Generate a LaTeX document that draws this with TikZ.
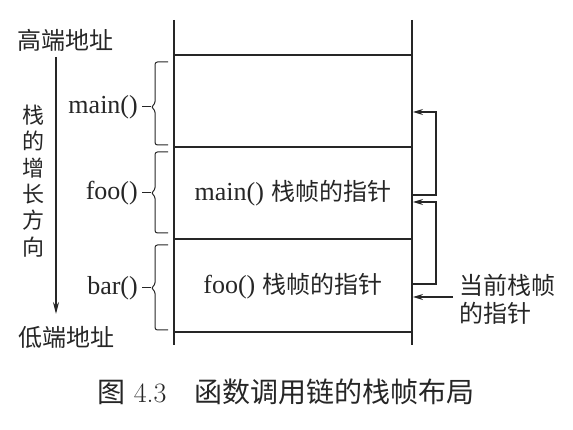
\documentclass[tikz,border=0pt]{standalone}
\usepackage{fontspec}
\newfontfamily\cjk{Noto Sans CJK SC}
\newfontfamily\lat{Liberation Serif}
\usetikzlibrary{arrows.meta}
\definecolor{ink}{HTML}{262626}
\begin{document}
\begin{tikzpicture}[x=1pt,y=-1pt,
  txt/.style={font=\fontsize{24}{26}\selectfont, text=ink, inner sep=0pt},
  frameline/.style={draw=ink, line width=2pt},
  ptr/.style={draw=ink, line width=1.2pt, -{Stealth[length=10pt,width=6pt]}},
  bracepath/.style={draw=ink, line width=1pt, rounded corners=2.5pt},
  dashline/.style={draw=ink, line width=1pt, shorten <=4pt}]
\useasboundingbox (0,0) rectangle (573,430);
% stack
\coordinate (tl) at (174,20); \coordinate (bl) at (174,345);
\coordinate (tr) at (412,20); \coordinate (br) at (412,345);
\draw[frameline] (tl) -- (bl);
\draw[frameline] (tr) -- (br);
\foreach \yy in {55,147,239,332} \draw[frameline] (174,\yy) -- (412,\yy);
% texts in frames
\node[txt] (pmain) at (293,193) {{\lat\fontsize{26}{26}\selectfont main()} {\cjk 栈帧的指针}};
\node[txt] (pfoo) at (293,286) {{\lat\fontsize{26}{26}\selectfont foo()} {\cjk 栈帧的指针}};
% left labels
\node[txt] (hi) at (65,40) {\cjk 高端地址};
\node[txt] (lo) at (66,337) {\cjk 低端地址};
\coordinate (gs) at (56,57); \coordinate (ge) at (56,314);
\draw[ink, line width=1.2pt, -{Stealth[length=12pt,width=6pt]}] (gs) -- (ge);
\node[txt, font=\fontsize{22}{26.4}\selectfont, align=center] (grow) at (33,181) {\cjk 栈\\\cjk 的\\\cjk 增\\\cjk 长\\\cjk 方\\\cjk 向};
% function labels and braces
\node[txt, anchor=east, font=\lat\fontsize{26}{26}\selectfont] (lmain) at (138,107) {main()};
\node[txt, anchor=east, font=\lat\fontsize{26}{26}\selectfont] (lfoo) at (138,193) {foo()};
\node[txt, anchor=east, font=\lat\fontsize{26}{26}\selectfont] (lbar) at (138,288) {bar()};
\coordinate (tmain) at (151,107);
\coordinate (tfoo) at (151,193);
\coordinate (tbar) at (151,288);
\draw[bracepath] (168,62) -- (155,62) -- (155,104) -- (tmain) -- (155,110) -- (155,145) -- (168,145);
\draw[bracepath] (168,152) -- (155,152) -- (155,190) -- (tfoo) -- (155,196) -- (155,233) -- (168,233);
\draw[bracepath] (168,245) -- (155,245) -- (155,285) -- (tbar) -- (155,291) -- (155,330) -- (168,330);
\draw[dashline] (lmain.east) -- (tmain);
\draw[dashline] (lfoo.east) -- (tfoo);
\draw[dashline] (lbar.east) -- (tbar);
% pointers
\coordinate (xr) at (436,0);
\coordinate (a1s) at (412,195); \coordinate (a1e) at (413,112);
\coordinate (a2s) at (412,284); \coordinate (a2e) at (413,202);
\coordinate (a3s) at (453,297); \coordinate (a3e) at (413,297);
\draw[ptr] (a1s) -- (a1s -| xr) |- (a1e);
\draw[ptr] (a2s) -- (a2s -| xr) |- (a2e);
\draw[ptr] (a3s) -- (a3e);
\node[txt, anchor=west, align=left, font=\fontsize{24}{28}\selectfont] (cur) at (459,299) {\cjk 当前栈帧\\\cjk 的指针};
% caption
\node[txt, font=\fontsize{28}{30}\selectfont] (cap) at (286,392) {{\cjk 图} 4.3\quad{\cjk 函数调用链的栈帧布局}};
\end{tikzpicture}
\end{document}
